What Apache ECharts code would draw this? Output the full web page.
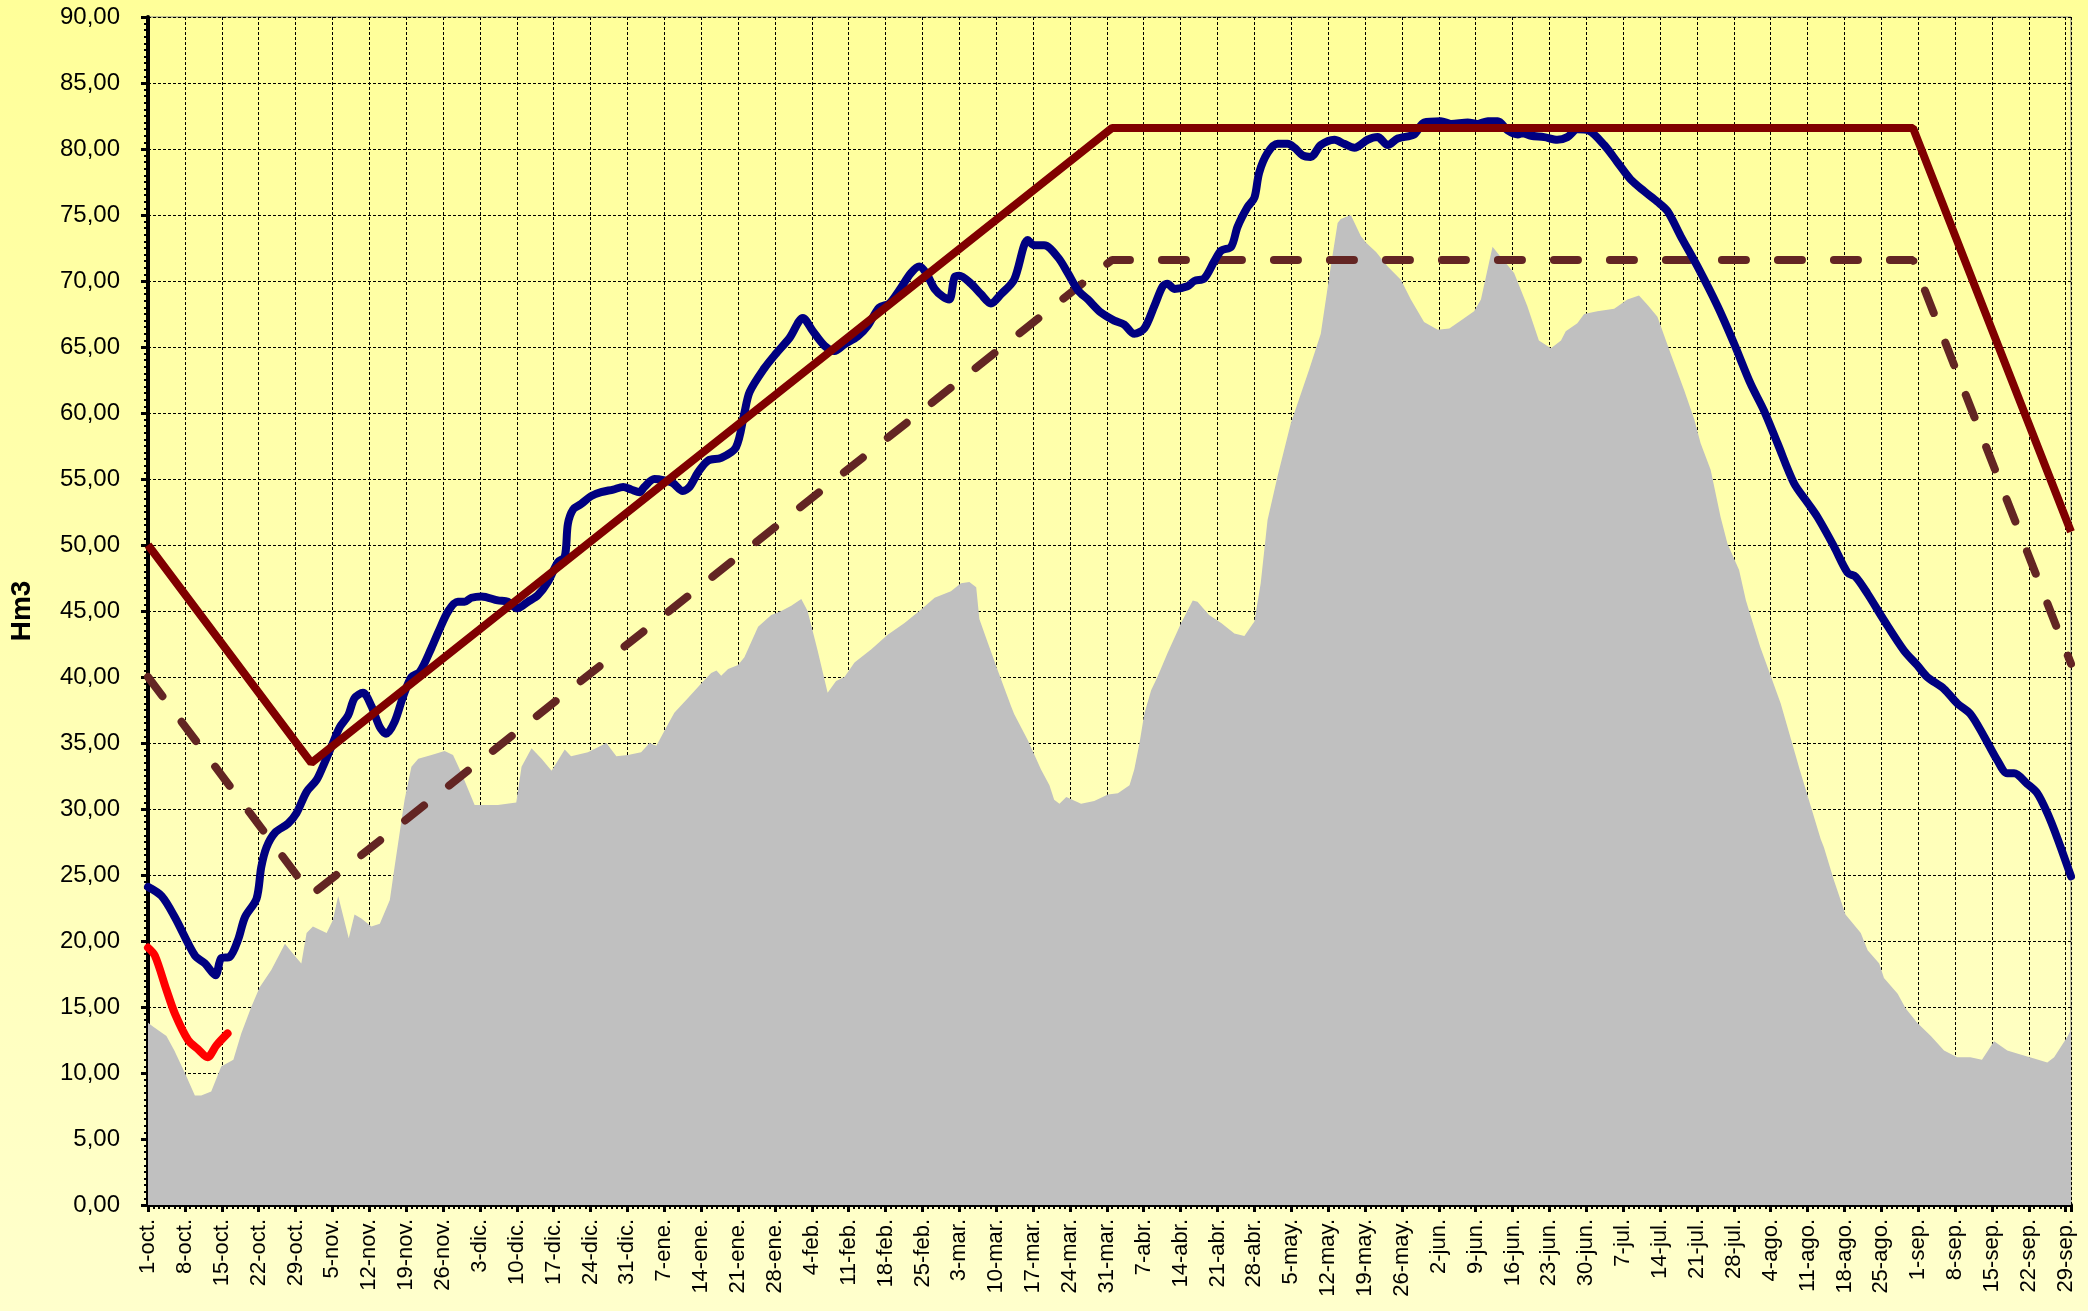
<!DOCTYPE html>
<html>
<head>
<meta charset="utf-8">
<title>Hm3</title>
<script src="https://cdn.jsdelivr.net/npm/echarts@6/dist/echarts.min.js"></script>
<style>
  html, body { margin: 0; padding: 0; }
  #main { width: 2088px; height: 1311px; }
</style>
</head>
<body>
<div id="main"></div>
<script>
// weekly tick labels (day 0 = 1-oct, every 7 days)
var weekLabels = [
  '1-oct.', '8-oct.', '15-oct.', '22-oct.', '29-oct.',
  '5-nov.', '12-nov.', '19-nov.', '26-nov.',
  '3-dic.', '10-dic.', '17-dic.', '24-dic.', '31-dic.',
  '7-ene.', '14-ene.', '21-ene.', '28-ene.',
  '4-feb.', '11-feb.', '18-feb.', '25-feb.',
  '3-mar.', '10-mar.', '17-mar.', '24-mar.', '31-mar.',
  '7-abr.', '14-abr.', '21-abr.', '28-abr.',
  '5-may.', '12-may.', '19-may.', '26-may.',
  '2-jun.', '9-jun.', '16-jun.', '23-jun.', '30-jun.',
  '7-jul.', '14-jul.', '21-jul.', '28-jul.',
  '4-ago.', '11-ago.', '18-ago.', '25-ago.',
  '1-sep.', '8-sep.', '15-sep.', '22-sep.', '29-sep.'
];

// [day, Hm3]
var grayArea = [
  [0,13.8],[1,13.5],[3.5,12.8],[5,11.7],[7,10.0],[8.9,8.3],[10.1,8.3],[12,8.6],[13.9,10.5],
  [16.2,11.0],[17.7,13.0],[19.6,15.0],[21.2,16.5],[23.4,17.8],[26,19.8],[27.8,18.9],[29.1,18.3],
  [30.1,20.6],[31.3,21.1],[33.9,20.6],[35.1,21.6],[36.1,23.4],[38.1,20.2],[39.2,22.0],[40.5,21.7],
  [42.4,21.1],[44,21.3],[45.9,23.1],[46.8,25.6],[48.7,30.7],[50,33.2],[51.3,33.8],[53.8,34.1],
  [56.3,34.4],[57.9,34.1],[59.5,32.7],[62,30.3],[66.4,30.3],[69.9,30.5],[70.9,33.2],[72.8,34.6],
  [74.7,33.8],[76.6,32.9],[79.1,34.5],[80.3,34.0],[83.5,34.3],[87,35.0],[88.9,34.0],[91.1,34.1],
  [93.6,34.3],[95.2,35.0],[96.5,34.8],[98,35.9],[99.9,37.3],[102.5,38.4],[105,39.5],[106.9,40.3],
  [107.9,40.5],[108.8,40.1],[110.1,40.6],[112,40.9],[113.2,41.5],[115.8,43.8],[118.3,44.7],
  [120.2,45.0],[122.1,45.4],[124,45.9],[125.2,45.0],[127.1,42.0],[129,38.8],[130.6,39.7],
  [132.2,40.0],[134.1,41.1],[137.3,42.1],[140.4,43.2],[143.6,44.1],[146.7,45.1],[149.3,46.0],
  [152.4,46.5],[154.3,47.1],[155.9,47.2],[157.2,46.8],[157.8,44.4],[159.4,42.6],[161.3,40.5],
  [163.8,37.8],[164.4,37.2],[167,35.2],[169.5,33.0],[171.1,31.8],[172,30.7],[173,30.4],
  [174.3,30.9],[177.1,30.4],[179.6,30.6],[182.2,31.1],[184.1,31.2],[186.3,31.8],[187.2,33.0],
  [188.2,35.0],[189.1,37.2],[190.4,39.0],[191.6,40.0],[193.5,41.8],[196.1,44.1],[198.3,45.8],
  [199.2,45.7],[201.4,44.7],[203.7,44.1],[206.2,43.3],[208.1,43.1],[210,44.2],[211.2,47.1],
  [212.5,51.9],[214.4,55.2],[216.9,59.2],[219.2,61.9],[220.4,63.3],[222.6,66.0],[224.5,71.1],
  [225.8,74.4],[226.4,74.7],[228.3,75.0],[230.2,73.4],[231.2,72.9],[233.1,72.2],[235.3,71.1],
  [237.8,70.1],[239.7,68.6],[242.2,66.9],[244.8,66.3],[247,66.4],[249.2,67.0],[251.7,67.7],
  [253,68.6],[255.2,72.6],[256.8,71.8],[259.3,70.6],[261.8,68.1],[264,65.5],[266.3,64.9],
  [268.2,65.5],[269.1,66.2],[271.3,66.8],[272.6,67.5],[275.1,67.7],[278.3,67.9],[280.8,68.6],
  [283,68.9],[284.6,68.2],[286.5,67.3],[289,64.5],[291.6,61.7],[293.5,59.5],[294.7,57.7],
  [296.6,55.7],[298.5,52.1],[299.8,50.1],[302,48.1],[303.3,45.8],[306,42.3],[309.9,38.0],
  [313.5,33.0],[317.5,27.7],[318.1,27.1],[320,24.6],[322.2,22.0],[325.1,20.6],[326.4,19.3],
  [328.6,18.3],[329.5,17.2],[332.1,16.0],[333.6,14.9],[335.8,13.8],[338.4,12.8],[340.9,11.7],
  [343.4,11.2],[345.9,11.2],[348.1,11.0],[350.4,12.4],[352.9,11.7],[355.4,11.4],[358,11.1],
  [360.5,10.8],[361.8,11.2],[364.4,12.8],[365,13.3]
];

var blueLine = [
  [0,24.1],[2.6,23.4],[5.1,21.8],[8.9,18.9],[10.8,18.3],[12.8,17.4],[13.9,18.7],[15.5,18.8],
  [17.1,20.1],[18.4,21.8],[20.6,23.2],[21.5,25.6],[22.5,27.1],[24.1,28.2],[26.6,28.9],[28.2,29.7],
  [30.1,31.3],[32,32.2],[33.5,33.5],[35.1,35.0],[36.4,36.2],[38,37.1],[39.2,38.4],[40.8,38.8],
  [42.4,37.8],[44,36.2],[45.2,35.7],[46.8,36.6],[48.4,38.5],[50,40.0],[51.6,40.4],[53.8,42.2],
  [55.1,43.4],[57,45.0],[58.8,45.7],[60.1,45.7],[61.4,46.0],[63.3,46.1],[66.4,45.8],[68.3,45.7],
  [70.1,45.2],[72.1,45.7],[74,46.2],[75.9,47.2],[77.8,48.7],[79.1,49.1],[79.7,51.6],[80.7,52.7],
  [82.2,53.1],[84.1,53.7],[86,54.0],[88.3,54.2],[90.2,54.4],[91.7,54.2],[93.3,54.0],[94.2,54.4],
  [96.1,55.0],[98,54.9],[99.6,54.7],[101.5,54.1],[102.8,54.4],[104.4,55.5],[106.3,56.4],
  [108.8,56.6],[111.6,57.4],[113.2,60.0],[114.2,61.6],[117,63.4],[119.2,64.5],[121.8,65.7],
  [124.3,67.2],[126.2,66.2],[128.4,65.1],[130.3,64.7],[132.2,65.2],[134.7,65.8],[136.6,66.6],
  [138.8,68.0],[140.7,68.3],[142.6,69.3],[144.8,70.6],[146.4,71.1],[147.7,70.6],[149.3,69.4],
  [150.9,68.8],[152.1,68.6],[153.1,70.3],[154,70.4],[156.2,69.8],[158.1,69.0],[160,68.3],
  [161.9,69.0],[164.4,70.1],[167,73.1],[168.2,72.7],[170.1,72.7],[172.7,71.8],[174.6,70.6],
  [176.5,69.3],[178.4,68.6],[180.9,67.6],[183.4,67.0],[185.3,66.7],[187.2,66.0],[189.1,66.4],
  [191,68.1],[192.6,69.6],[193.5,69.8],[194.8,69.4],[197.3,69.6],[198.6,70.0],[200.5,70.2],
  [202.4,71.5],[203.7,72.3],[205.6,72.6],[206.8,74.1],[208.7,75.6],[210,76.3],[210.9,78.2],
  [212.5,79.7],[214.4,80.4],[216.3,80.4],[217.6,80.1],[219.2,79.5],[220.7,79.4],[222.6,80.3],
  [225.2,80.7],[227,80.4],[229,80.1],[231.5,80.7],[233.4,80.9],[235.3,80.3],[237.2,80.8],
  [240.3,81.1],[242.2,82.0],[245.4,82.1],[247.3,81.9],[250.5,82.0],[252.4,81.9],[254.3,82.1],
  [256.2,82.1],[258.1,81.4],[260,81.1],[260.9,81.2],[262.5,81.0],[265,80.9],[267.5,80.7],
  [269.4,80.9],[271.3,81.5],[273.5,81.4],[276.4,80.3],[278.9,79.0],[281.4,77.7],[284,76.8],
  [286.5,76.0],[288.4,75.3],[290.9,73.4],[294.1,71.1],[297.9,68.1],[301,65.3],[304.2,62.2],
  [306.7,60.2],[309.3,57.7],[312.4,54.7],[315,53.2],[316.9,52.1],[320,49.9],[322.6,47.9],
  [324.1,47.6],[326.4,46.3],[329.5,44.3],[333.3,42.0],[335.8,40.9],[337.7,40.0],[340.9,39.1],
  [343.4,38.0],[345.9,37.2],[348.5,35.5],[351,33.7],[352.9,32.7],[354.2,32.7],[356.7,31.9],
  [358.6,31.2],[360.5,29.7],[362.4,27.8],[365,24.9]
];

var redLine = [
  [0,19.5],[1.3,18.9],[3.5,16.3],[5.1,14.5],[7.6,12.5],[9.5,11.8],[11.3,11.2],[13,12.1],[15.1,13.0]
];

var solidCurve = [[0,50.0],[31,33.5],[183,81.6],[335,81.6],[365,51.0]];
var dashedCurve = [[0,40.0],[31,23.5],[183,71.6],[335,71.6],[365,41.0]];

var FONT = '"Liberation Sans", Arial, sans-serif';

var chartDom = document.getElementById('main');
var myChart = echarts.init(chartDom);
var option;

option = {
  animation: false,
  backgroundColor: {
    type: 'linear', x: 0, y: 0, x2: 0, y2: 1,
    colorStops: [
      { offset: 0, color: '#ffff99' },
      { offset: 1, color: '#ffffcc' }
    ]
  },
  grid: {
    left: 147,
    right: 17,
    top: 17,
    bottom: 106,
    show: true,
    borderColor: '#808080',
    borderWidth: 1,
    backgroundColor: 'transparent'
  },
  xAxis: {
    type: 'value',
    min: 0,
    max: 365,
    interval: 7,
    axisLine: { lineStyle: { color: '#000', width: 4 } },
    axisTick: { length: 7, lineStyle: { color: '#000', width: 3 } },
    minorTick: { show: true, splitNumber: 7, length: 4, lineStyle: { color: '#000', width: 2 } },
    axisLabel: {
      rotate: 90,
      margin: 14,
      color: '#000',
      fontFamily: FONT,
      fontSize: 22,
      formatter: function (v) {
        return v % 7 === 0 && weekLabels[v / 7] ? weekLabels[v / 7] : '';
      }
    },
    splitLine: { show: true, lineStyle: { color: '#000', width: 1, type: [3, 2] } }
  },
  yAxis: {
    type: 'value',
    min: 0,
    max: 90,
    interval: 5,
    name: 'Hm3',
    nameLocation: 'middle',
    nameGap: 112,
    nameTextStyle: { fontFamily: FONT, fontSize: 28, fontWeight: 'bold', color: '#000' },
    axisLine: { show: true, lineStyle: { color: '#000', width: 4 } },
    axisTick: { show: true, length: 7, lineStyle: { color: '#000', width: 3 } },
    minorTick: { show: true, splitNumber: 10, length: 4, lineStyle: { color: '#000', width: 2 } },
    axisLabel: {
      margin: 28,
      color: '#000',
      fontFamily: FONT,
      fontSize: 24,
      formatter: function (v) { return v.toFixed(2).replace('.', ','); }
    },
    splitLine: { show: true, lineStyle: { color: '#000', width: 1, type: [3, 2] } }
  },
  series: [
    {
      name: 'area',
      type: 'line',
      data: grayArea,
      symbol: 'none',
      lineStyle: { width: 0 },
      areaStyle: { color: '#c0c0c0', opacity: 1 },
      z: 1
    },
    {
      name: 'dashed',
      type: 'line',
      data: dashedCurve,
      symbol: 'none',
      lineStyle: { color: '#632523', width: 8, type: [24, 32], cap: 'round' },
      z: 2
    },
    {
      name: 'blue',
      type: 'line',
      data: blueLine,
      symbol: 'none',
      smooth: 0.3,
      lineStyle: { color: '#000080', width: 8, cap: 'round', join: 'round' },
      z: 3
    },
    {
      name: 'solid',
      type: 'line',
      data: solidCurve,
      symbol: 'none',
      lineStyle: { color: '#800000', width: 8 },
      z: 4
    },
    {
      name: 'red',
      type: 'line',
      data: redLine,
      symbol: 'none',
      smooth: 0.3,
      lineStyle: { color: '#ff0000', width: 8, cap: 'round' },
      z: 5
    }
  ]
};

option && myChart.setOption(option);
</script>
</body>
</html>
